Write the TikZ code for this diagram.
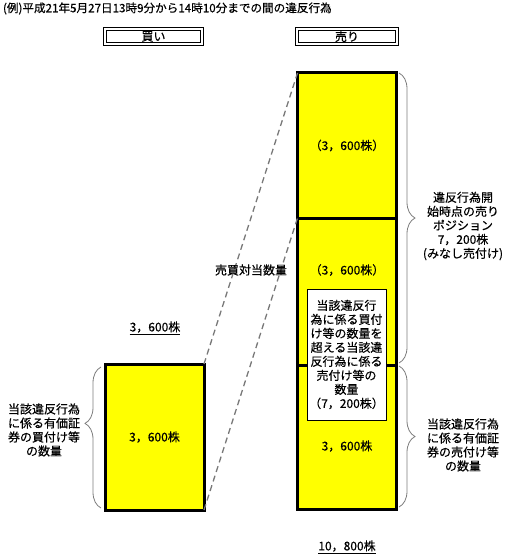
\documentclass[tikz,border=0pt]{standalone}
\usepackage{fontspec}
\setmainfont{Noto Sans CJK JP}[FakeBold=0.4]
\usetikzlibrary{decorations.pathreplacing}
\definecolor{boxyellow}{RGB}{255,255,0}
\definecolor{bracegray}{RGB}{125,125,125}
\definecolor{dashgray}{RGB}{120,120,120}
\begin{document}
\begin{tikzpicture}[x=1pt,y=-1pt,
  every node/.style={inner sep=0pt, outer sep=0pt, font=\fontsize{12}{14}\selectfont},
  colbox/.style={draw=black, line width=3pt, fill=boxyellow, minimum width=99pt},
  innerbox/.style={draw=black, line width=0.8pt, fill=white, minimum width=79pt, minimum height=131pt, align=center},
  headbox/.style={draw=black, double, double distance=2pt, line width=0.8pt, minimum height=15.2pt},
  multitext/.style={align=center, font=\fontsize{12}{14}\selectfont},
  bracestyle/.style={draw=bracegray, line width=0.8pt, decorate, decoration={brace, amplitude=16pt, aspect=#1}},
  dashline/.style={draw=dashgray, line width=1.3pt, dash pattern=on 6pt off 4pt}
]
\useasboundingbox (0,0) rectangle (508,559);

% title
\node[anchor=west, font=\fontsize{11.6}{13}\selectfont] (title) at (3,8.5) {(例)平成21年5月27日13時9分から14時10分までの間の違反行為};

% headers
\node[headbox, minimum width=97.2pt] (hbuy) at (153.5,36.5) {買い};
\node[headbox, minimum width=100.2pt] (hsell) at (347,36.5) {売り};

% buy box
\node[colbox, minimum height=146pt] (buy) at (154.5,437) {3，600株};
\node (buytop) at (155,328) {\underline{3，600株}};

% sell boxes
\node[colbox, minimum height=145pt] (s1) at (347,145.5) {（3，600株）};
\node[colbox, minimum height=147pt] (s2) at (347,291.5) {};
\node[colbox, minimum height=144pt] (s3) at (347,437) {};
\node (s2t) at (347,270) {（3，600株）};
\node (s3t) at (347,446) {3，600株};
\node[innerbox] (white) at (346.5,354.5) {当該違反行\\為に係る買付\\け等の数量を\\超える当該違\\反行為に係る\\売付け等の\\数量\\（7，200株）};
\node (selltot) at (347,547) {\underline{10，800株}};

% dashed connectors
\draw[dashline] (buy.north east) -- (s1.north west);
\draw[dashline] (buy.south east) -- (s2.north west);
\node (taito) at (251,270) {売買対当数量};

% braces
\coordinate (lb1) at (101,508);
\coordinate (lb2) at (101,367);
\draw[bracestyle=0.6] (lb1) -- (lb2);
\coordinate (rb1) at (399,73);
\coordinate (rb2) at (399,363);
\draw[bracestyle=0.5] (rb1) -- (rb2);
\coordinate (rb3) at (399,366);
\coordinate (rb4) at (399,507);
\draw[bracestyle=0.5] (rb3) -- (rb4);

% brace labels
\node[multitext] (ltext) at (44,430) {当該違反行為\\に係る有価証\\券の買付け等\\の数量};
\node[multitext] (rtext1) at (463,226) {違反行為開\\始時点の売り\\ポジション\\7，200株\\(みなし売付け)};
\node[multitext] (rtext2) at (463,445) {当該違反行為\\に係る有価証\\券の売付け等\\の数量};
\end{tikzpicture}
\end{document}
